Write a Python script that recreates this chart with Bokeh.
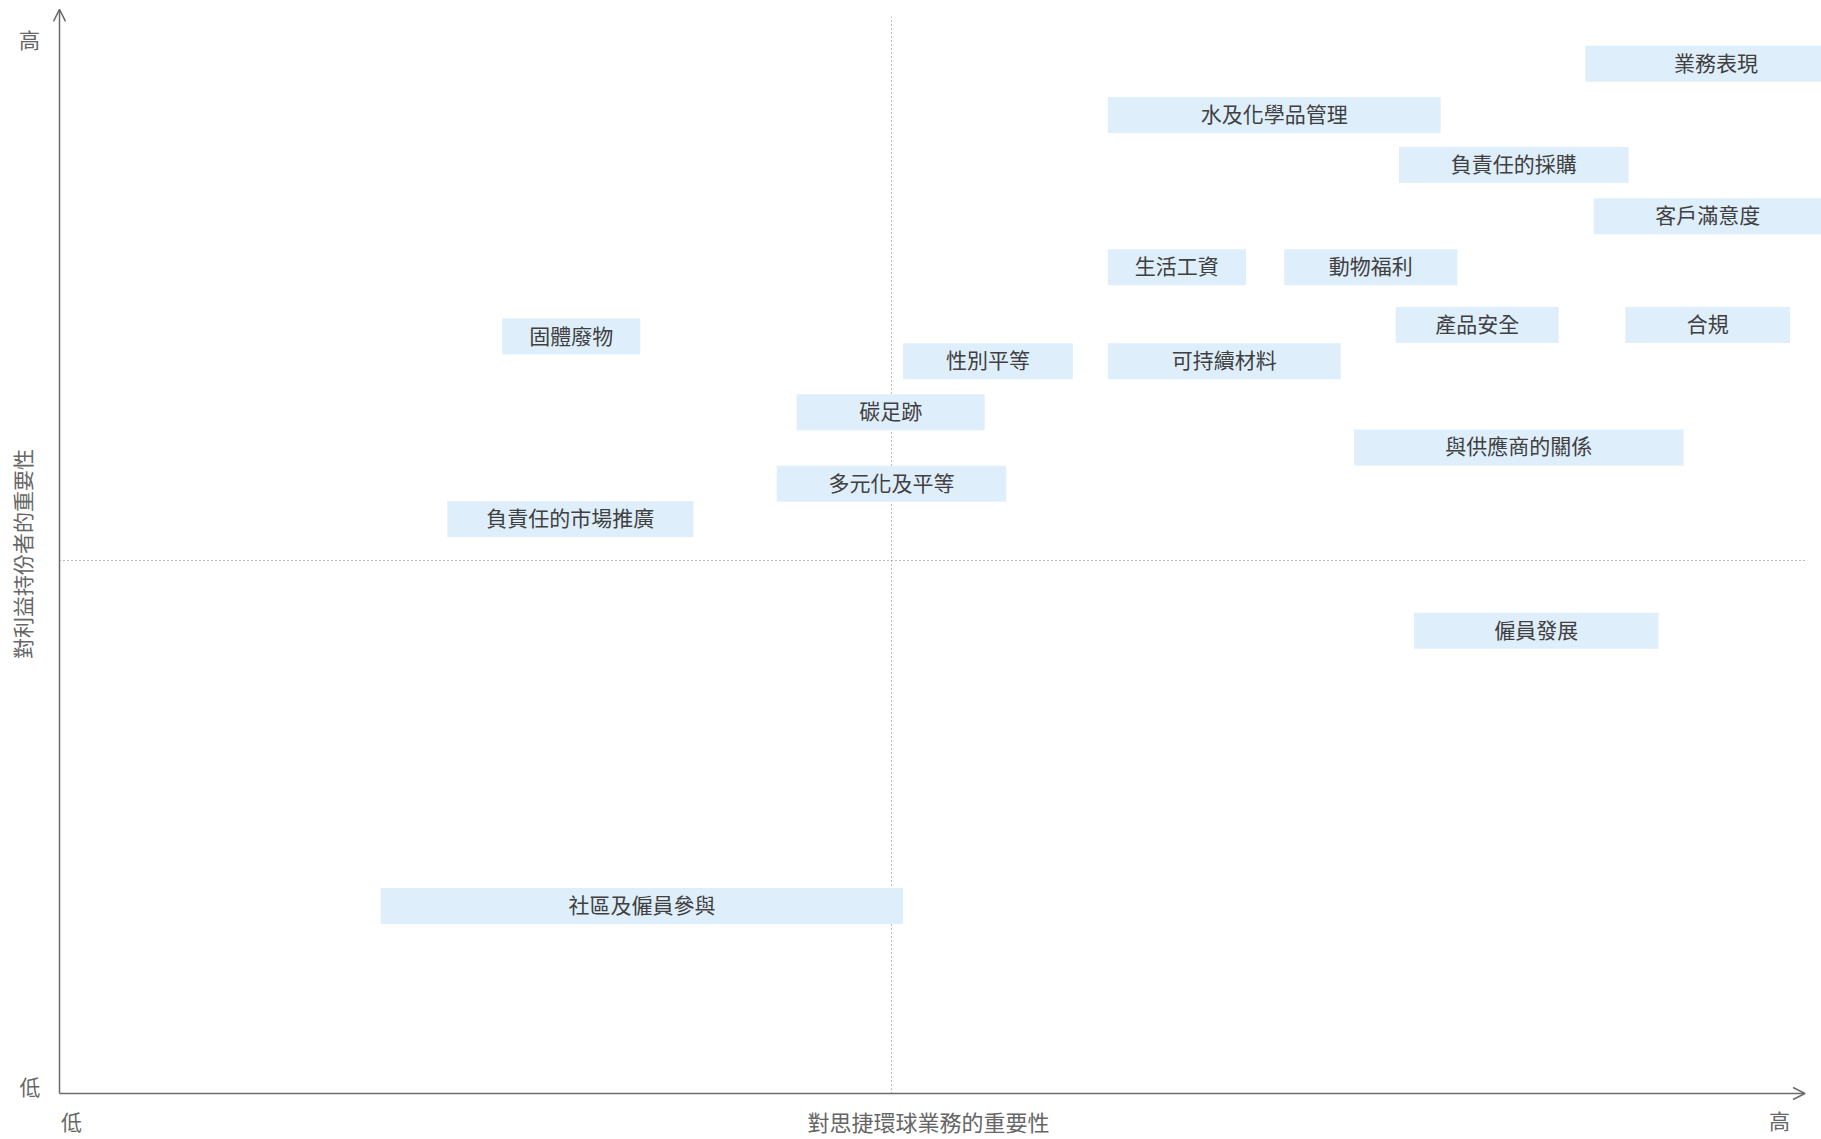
import math
import numpy as np
from bokeh.plotting import figure
from bokeh.models import Range1d, Label, Arrow, OpenHead, ColumnDataSource
from bokeh.core.properties import value
from bokeh.embed import file_html
from bokeh.resources import INLINE

# ---- data (importance scores, 0-10 scale; boxes span a range on the x axis) ----
topics = ["業務表現", "水及化學品管理", "負責任的採購", "客戶滿意度", "生活工資", "動物福利",
          "產品安全", "合規", "固體廢物", "性別平等", "可持續材料", "碳足跡",
          "多元化及平等", "與供應商的關係", "負責任的市場推廣", "僱員發展", "社區及僱員參與"]
business_low = [9.17, 6.30, 8.05, 9.22, 6.30, 7.36, 8.03, 9.41, 2.66, 5.07, 6.30, 4.43,
                4.31, 7.78, 2.33, 8.14, 1.93]
business_high = [10.74, 8.30, 9.43, 10.59, 7.13, 8.40, 9.01, 10.40, 3.49, 6.09, 7.70, 5.56,
                 5.69, 9.76, 3.81, 9.61, 5.07]
stakeholder = [9.66, 9.18, 8.71, 8.23, 7.75, 7.75, 7.21, 7.21, 7.10, 6.87, 6.87, 6.39,
               5.72, 6.06, 5.39, 4.34, 1.76]
x_title = "對思捷環球業務的重要性"
y_title = "對利益持份者的重要性"
low_label = "低"
high_label = "高"

lo = np.array(business_low)
hi = np.array(business_high)
src = ColumnDataSource(dict(topic=topics, xc=(lo + hi) / 2, w=hi - lo, y=stakeholder))

FONT = "Noto Sans CJK TC"
AXIS_COLOR = "#6b6b6b"

p = figure(width=1821, height=1139, output_backend="svg", toolbar_location=None,
           x_range=Range1d(-0.3546, 10.589), y_range=Range1d(-0.4315, 10.253),
           x_axis_type=None, y_axis_type=None, min_border=0,
           outline_line_color=None, background_fill_color="white", border_fill_color="white")
p.grid.visible = False

# quadrant dividers (dotted)
p.segment(x0=[5, 0], y0=[0, 5], x1=[5, 10.49], y1=[10.10, 5],
          line_color="#7a7a7a", line_width=1, line_dash="1 3")

# topic boxes
p.rect(x="xc", y="y", width="w", height=36, height_units="screen", source=src,
       fill_color="#dfeefb", line_color=None)
p.text(x="xc", y="y", text="topic", source=src, text_align="center", text_baseline="middle",
       y_offset=-2, text_font=value(FONT), text_font_size="21px", text_color="#404040")

# axes with open arrowheads
p.add_layout(Arrow(end=OpenHead(size=12, line_color=AXIS_COLOR, line_width=1.5),
                   x_start=0, y_start=0, x_end=0, y_end=10.17,
                   line_color=AXIS_COLOR, line_width=1.5))
p.add_layout(Arrow(end=OpenHead(size=12, line_color=AXIS_COLOR, line_width=1.5),
                   x_start=0, y_start=0, x_end=10.49, y_end=0,
                   line_color=AXIS_COLOR, line_width=1.5))

def lab(x, y, t, size="21px", angle=0.0):
    p.add_layout(Label(x=x, y=y, text=t, text_align="center", text_baseline="middle",
                       text_font=FONT, text_font_size=size, text_color="#666666",
                       angle=angle))

lab(-0.180, 9.89, high_label)
lab(-0.177, 0.075, low_label)
lab(-0.225, 5.06, y_title, size="21px", angle=math.pi / 2)
lab(0.072, -0.262, low_label)
lab(5.222, -0.262, x_title, size="22px")
lab(10.337, -0.252, high_label)

open("out.html", "w").write(file_html(p, INLINE))
